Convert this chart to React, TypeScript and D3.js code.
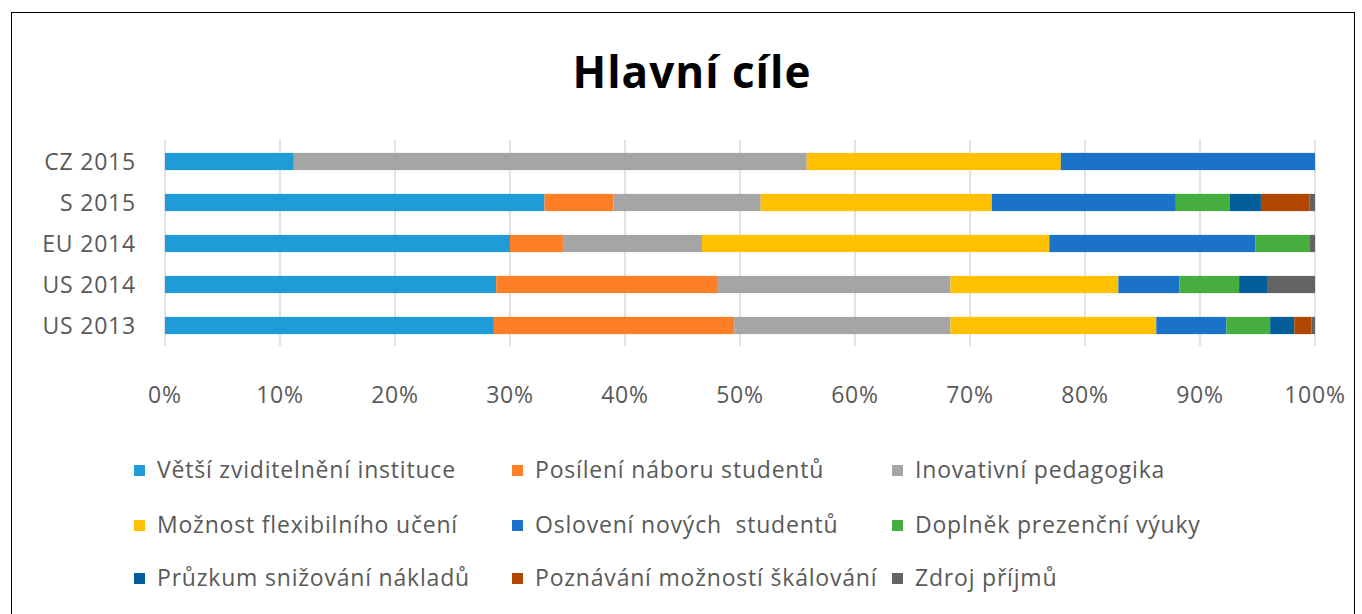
import React, { useRef, useEffect } from 'react'
import * as d3 from 'd3'

const categories = ['CZ 2015', 'S 2015', 'EU 2014', 'US 2014', 'US 2013']

const seriesNames = [
  'Větší zviditelnění instituce',
  'Posílení náboru studentů',
  'Inovativní pedagogika',
  'Možnost flexibilního učení',
  'Oslovení nových  studentů',
  'Doplněk prezenční výuky',
  'Průzkum snižování nákladů',
  'Poznávání možností škálování',
  'Zdroj příjmů',
]

const seriesColors = [
  '#1f9bd8', '#fe7f26', '#a5a5a5', '#ffc000', '#1a73c9',
  '#46ae3f', '#025e98', '#b04600', '#636363',
]

// shares in % per category, series in the order above
const cz2015 = [11.2, 0, 44.6, 22.1, 22.1, 0, 0, 0, 0]
const s2015 = [33.0, 6.0, 12.8, 20.1, 16.0, 4.7, 2.7, 4.2, 0.5]
const eu2014 = [30.0, 4.6, 12.1, 30.2, 17.9, 4.7, 0, 0, 0.5]
const us2014 = [28.8, 19.2, 20.3, 14.6, 5.3, 5.2, 2.5, 0, 4.1]
const us2013 = [28.6, 20.9, 18.8, 17.9, 6.1, 3.8, 2.1, 1.5, 0.3]

const values = [cz2015, s2015, eu2014, us2014, us2013]

const xTicks = [0, 10, 20, 30, 40, 50, 60, 70, 80, 90, 100]

const font = 'Open Sans, sans-serif'
const textColor = '#595959'

const App: React.FC = () => {
  const svgRef = useRef<SVGSVGElement | null>(null)
  const width = 1362
  const height = 614

  useEffect(() => {
    if (!svgRef.current) return
    const svg = d3.select(svgRef.current)
    svg.selectAll('*').remove()

    // outer frame
    svg.append('rect')
      .attr('x', 11.5).attr('y', 12.5)
      .attr('width', 1343).attr('height', 620)
      .attr('fill', '#fff')
      .attr('stroke', '#000')
      .attr('stroke-width', 1)

    svg.append('text')
      .attr('x', 692).attr('y', 88)
      .attr('text-anchor', 'middle')
      .style('font-family', font)
      .style('font-size', '44px')
      .style('font-weight', 'bold')
      .style('letter-spacing', '1px')
      .text('Hlavní cíle')

    const x = d3.scaleLinear().domain([0, 100]).range([165, 1315])
    const y = d3.scaleBand().domain(categories).range([141, 346]).paddingInner(0.58).paddingOuter(0.29)

    // grid
    svg.append('g').selectAll('line').data(xTicks).join('line')
      .attr('x1', d => x(d)).attr('x2', d => x(d))
      .attr('y1', 140).attr('y2', 346)
      .attr('stroke', '#d9d9d9').attr('stroke-width', 1.5)

    // stacked bars
    const rows = categories.map((c, i) => {
      let acc = 0
      return values[i].map((v, k) => {
        const seg = { cat: c, k, x0: acc, x1: acc + v }
        acc += v
        return seg
      }).filter(s => s.x1 > s.x0)
    })

    svg.append('g').selectAll('g').data(rows).join('g')
      .selectAll('rect').data(d => d).join('rect')
      .attr('x', d => x(d.x0))
      .attr('width', d => x(d.x1) - x(d.x0))
      .attr('y', d => y(d.cat)!)
      .attr('height', y.bandwidth())
      .attr('fill', d => seriesColors[d.k])

    const labelStyle = (sel: d3.Selection<any, any, any, any>) => sel
      .style('font-family', font)
      .style('font-size', '23px')
      .style('letter-spacing', '0.8px')
      .attr('fill', textColor)

    // category labels
    svg.append('g').selectAll('text').data(categories).join('text')
      .attr('x', 136)
      .attr('y', d => y(d)! + y.bandwidth() / 2)
      .attr('dy', '0.35em')
      .attr('text-anchor', 'end')
      .call(labelStyle)
      .text(d => d)

    // x tick labels
    svg.append('g').selectAll('text').data(xTicks).join('text')
      .attr('x', d => x(d))
      .attr('y', 395)
      .attr('dy', '0.35em')
      .attr('text-anchor', 'middle')
      .call(labelStyle)
      .text(d => `${d}%`)

    // legend
    const colX = [134, 512, 892]
    const rowY = [470, 525, 578]
    const lg = svg.append('g').selectAll('g').data(seriesNames).join('g')
      .attr('transform', (_, i) => `translate(${colX[i % 3]},${rowY[Math.floor(i / 3)]})`)
    lg.append('rect')
      .attr('x', 0).attr('y', -5)
      .attr('width', 11).attr('height', 11)
      .attr('fill', (_, i) => seriesColors[i])
    lg.append('text')
      .attr('x', 23).attr('y', 0)
      .attr('dy', '0.35em')
      .call(labelStyle)
      .style('white-space', 'pre')
      .text(d => d)
  }, [])

  return <svg ref={svgRef} width={width} height={height} style={{ position: 'absolute', left: 0, top: 0 }} />
}

export default App
